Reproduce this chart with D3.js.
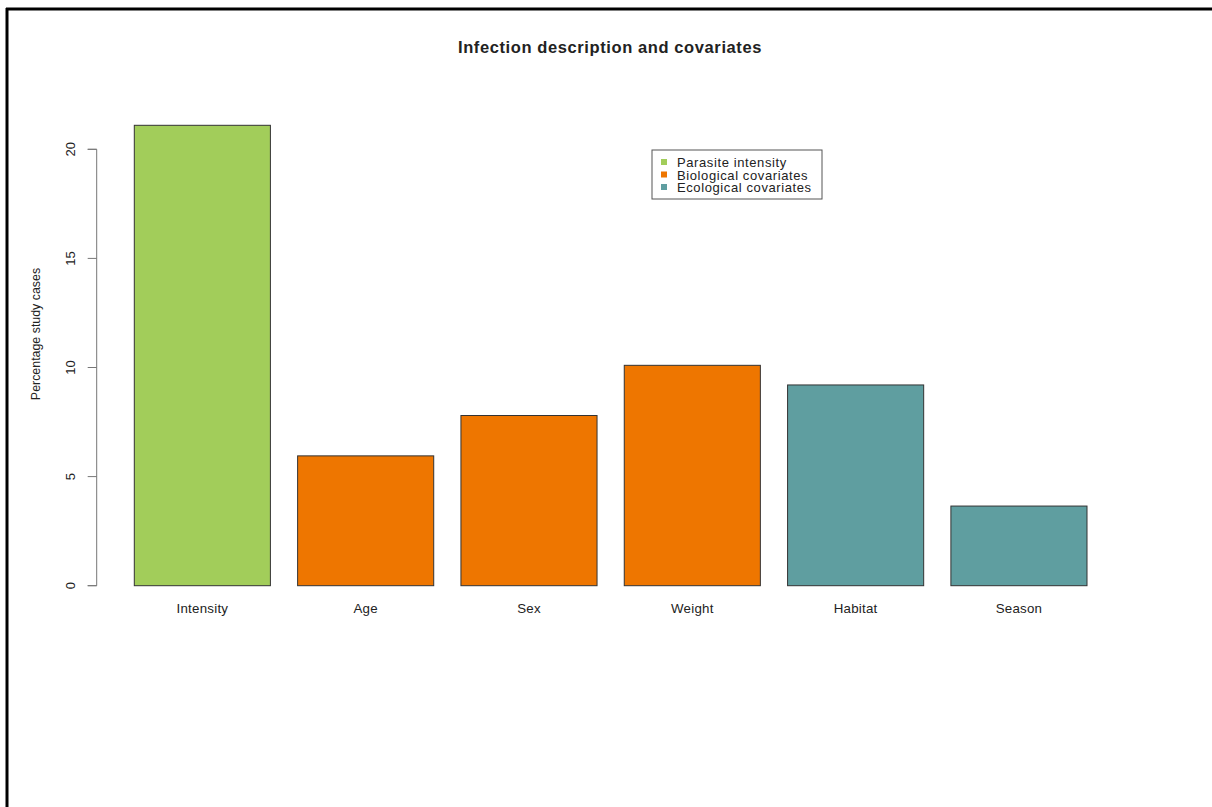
<!DOCTYPE html>
<html>
<head>
<meta charset="utf-8">
<script src="https://cdn.jsdelivr.net/npm/d3@7"></script>
<style>
body { margin: 0; background: #fff; }
svg { display: block; }
text { font-family: "Liberation Sans", Arial, sans-serif; fill: #222; }
</style>
</head>
<body>
<script>
const categories = ["Intensity", "Age", "Sex", "Weight", "Habitat", "Season"];
const values = [21.1, 5.95, 7.8, 10.1, 9.2, 3.65];
const groups = ["Parasite intensity", "Biological covariates", "Biological covariates", "Biological covariates", "Ecological covariates", "Ecological covariates"];
const legendLabels = ["Parasite intensity", "Biological covariates", "Ecological covariates"];
const legendColors = ["#A2CD5A", "#EE7600", "#5F9EA0"];
const yTicks = [0, 5, 10, 15, 20];

const W = 1212, H = 807;
const svg = d3.select("body").append("svg").attr("width", W).attr("height", H);

// frame (left and top edges visible)
svg.append("line").attr("x1", 7).attr("x2", 7).attr("y1", 8).attr("y2", H).attr("stroke", "#000").attr("stroke-width", 3);
svg.append("line").attr("x1", 6).attr("x2", W).attr("y1", 9).attr("y2", 9).attr("stroke", "#000").attr("stroke-width", 3);

const color = d3.scaleOrdinal().domain(legendLabels).range(legendColors);

// R barplot: width 1, space 0.2 => bars at [0.2+1.2i, 1.2+1.2i]
const x = d3.scaleLinear().domain([0.2, 7.2]).range([134.3, 1087]);
const y = d3.scaleLinear().domain([0, 20]).range([585.7, 149.3]);

// bars
svg.append("g").selectAll("rect").data(values).join("rect")
  .attr("x", (d, i) => x(0.2 + 1.2 * i))
  .attr("width", (d, i) => x(1.2 + 1.2 * i) - x(0.2 + 1.2 * i))
  .attr("y", d => y(d))
  .attr("height", d => y(0) - y(d))
  .attr("fill", (d, i) => color(groups[i]))
  .attr("stroke", "#333").attr("stroke-width", 1);

// category labels
svg.append("g").selectAll("text").data(categories).join("text")
  .attr("x", (d, i) => x(0.7 + 1.2 * i))
  .attr("y", 613)
  .attr("text-anchor", "middle")
  .attr("font-size", 13.3)
  .attr("letter-spacing", 0.25)
  .text(d => d);

// y axis
const yAxis = d3.axisLeft(y).tickValues(yTicks).tickSize(9).tickFormat(d3.format("d"));
const gy = svg.append("g").attr("transform", "translate(96.7,0)").call(yAxis);
gy.select(".domain").attr("stroke", "#777").attr("d", `M-9,${y(0)}H0V${y(20)}H-9`);
gy.selectAll(".tick line").attr("stroke", "#777");
gy.selectAll(".tick text")
  .attr("x", 0).attr("dy", null)
  .attr("transform", d => `translate(-22,${y(d)}) rotate(-90)`)
  .attr("y", 0)
  .attr("text-anchor", "middle")
  .attr("dominant-baseline", "auto")
  .attr("font-size", 13)
  .style("font-family", '"Liberation Sans", Arial, sans-serif')
  .attr("fill", "#222");
gy.selectAll(".tick").attr("transform", null);
gy.selectAll(".tick line").attr("y1", d => y(d)).attr("y2", d => y(d)).attr("x2", -9);

// y label
svg.append("text")
  .attr("transform", "translate(40,334) rotate(-90)")
  .attr("text-anchor", "middle")
  .attr("font-size", 12.4)
  .text("Percentage study cases");

// title
svg.append("text")
  .attr("x", 610).attr("y", 53)
  .attr("text-anchor", "middle")
  .attr("font-size", 16.5).attr("font-weight", "bold")
  .attr("letter-spacing", 0.6)
  .text("Infection description and covariates");

// legend
const lg = svg.append("g");
lg.append("rect").attr("x", 652).attr("y", 150).attr("width", 170).attr("height", 49)
  .attr("fill", "#fff").attr("stroke", "#555").attr("stroke-width", 1);
legendLabels.forEach((lab, i) => {
  lg.append("rect").attr("x", 661).attr("y", 159 + i * 12.5).attr("width", 6).attr("height", 6)
    .attr("fill", legendColors[i]);
  lg.append("text").attr("x", 677).attr("y", 167 + i * 12.5).attr("font-size", 13)
    .attr("letter-spacing", 0.6).text(lab);
});
</script>
</body>
</html>
